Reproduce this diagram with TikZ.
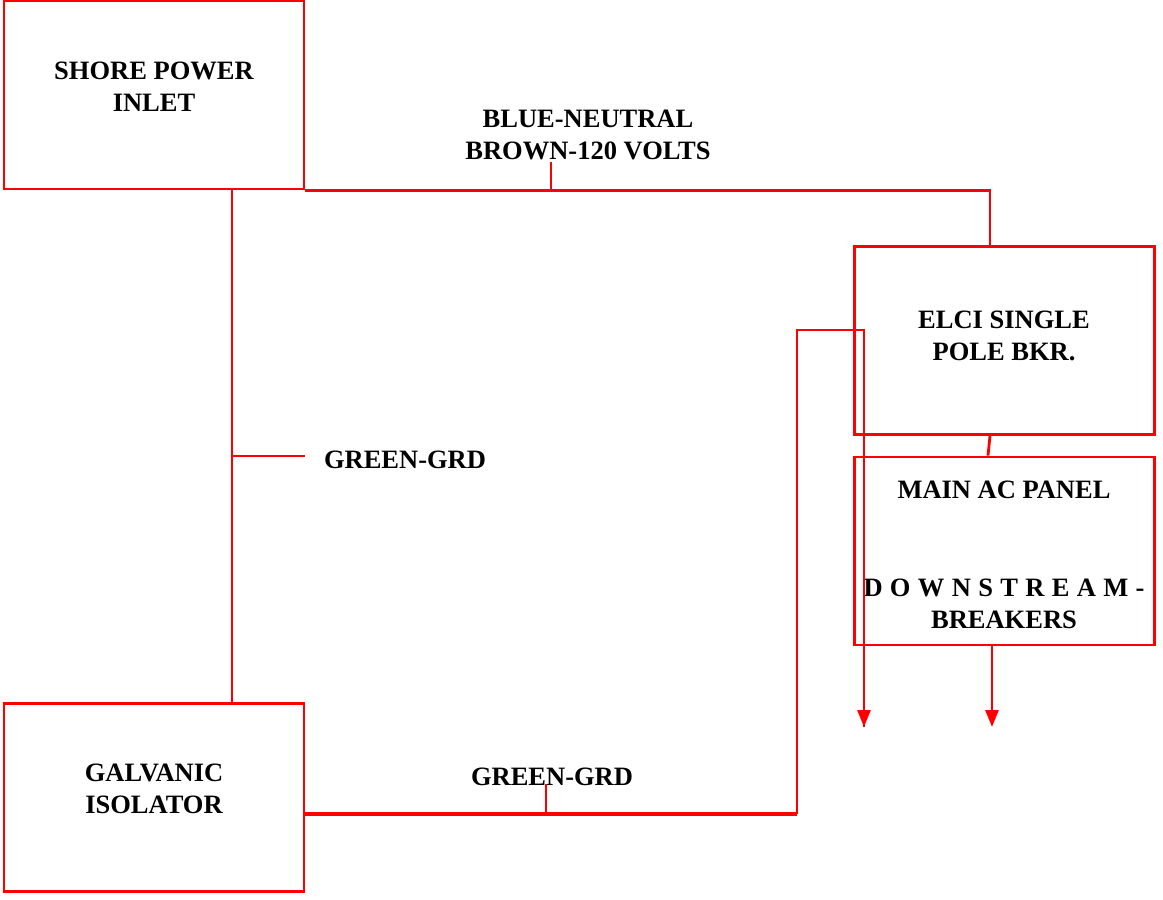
\documentclass[tikz,border=0pt]{standalone}
\usepackage{fontspec}
\setmainfont{Liberation Serif}
\usetikzlibrary{arrows.meta}
\begin{document}
\begin{tikzpicture}[x=1pt,y=-1pt,
  wire/.style={draw=red, line width=2.8pt},
  heavy/.style={draw=red, line width=4pt},
  box/.style={draw=red, line width=2.8pt, rectangle, inner sep=0pt, minimum width=300pt, minimum height=188pt},
  lbl/.style={font=\fontsize{26.5}{32}\selectfont\bfseries, align=center, inner sep=0pt, text=black},
  arr/.style={-{Triangle[length=17pt,width=13pt]}}]
\useasboundingbox (0,0) rectangle (1163,900);
% boxes
\node[box] (shore) at (154,95) {};
\node[box] (galv) at (154,797.5) {};
\node[box] (elci) at (1004.5,340.5) {};
\node[box] (main) at (1004.5,551) {};
% box texts
\node[lbl] (shoreT) at (154,87) {SHORE POWER\\INLET};
\node[lbl] (galvT) at (154,789) {GALVANIC\\ISOLATOR};
\node[lbl] (elciT) at (1004,335.5) {ELCI SINGLE\\POLE BKR.};
\node[lbl] (mainT) at (1004,490) {MAIN AC PANEL};
\node[lbl] (mainD) at (1004,604) {\makebox[281pt][s]{D O W N S T R E A M -}\\BREAKERS};
% wire labels
\node[lbl] (busT) at (588,135) {BLUE-NEUTRAL\\BROWN-120 VOLTS};
\node[lbl] (grdA) at (405,460) {GREEN-GRD};
\node[lbl] (grdB) at (552,777) {GREEN-GRD};
% coordinates
\coordinate (t1) at (551,189);
\coordinate (t1e) at (551,162);
\coordinate (vl) at (232,456);
\coordinate (gb) at (304,814);
\coordinate (t2) at (546,814);
\coordinate (t2e) at (546,784);
\coordinate (bl) at (797,330);
\coordinate (arrA) at (864,727);
\coordinate (arrB) at (992,727);
% top bus
\draw[wire] (shore.south east) -| ([xshift=-14.5pt]elci.north);
\draw[wire] (t1) -- (t1e);
% left ground
\draw[wire] (vl |- shore.south) -- (vl |- galv.north);
\draw[wire] (vl) -- (vl -| shore.east);
% bottom ground
\draw[heavy] (gb) -- (gb -| bl);
\draw[wire] (gb -| bl) -- (bl) -| (arrA);
\draw[wire,arr] (bl -| arrA) -- (arrA);
\draw[wire] (t2) -- (t2e);
% elci to main
\draw[wire] ([xshift=-14.5pt]elci.south) -- ([xshift=-16.5pt]main.north);
\draw[wire,arr] ([xshift=-12.5pt]main.south) -- (arrB);
\end{tikzpicture}
\end{document}
